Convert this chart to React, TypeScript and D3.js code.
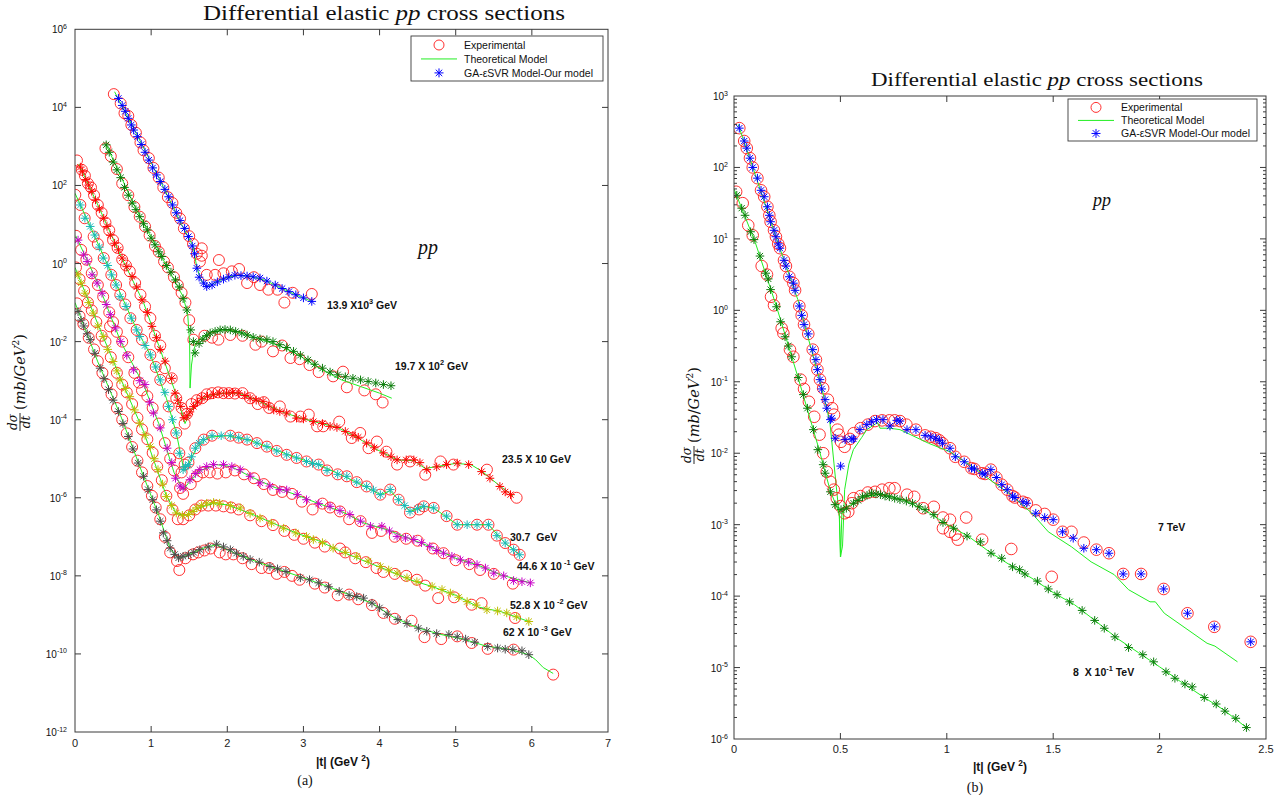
import React from "react";
import * as d3 from "d3";

type P = [number, number]; // [|t| in GeV^2, log10(dσ/dt in mb/GeV^2)]

// ================= Panel (a) data =================
const xTickValsA = [0, 1, 2, 3, 4, 5, 6, 7];
const yDecadesA = [-12, -10, -8, -6, -4, -2, 0, 2, 4, 6];

// 13.9 x 10^3 GeV
const expA1: P[] = [[0.51,4.34],[0.60,4.10],[0.65,3.85],[0.70,3.78],[0.74,3.55],[0.80,3.35],[0.86,3.10],[0.90,2.90],[0.97,2.70],[1.03,2.45],[1.10,2.20],[1.16,1.95],[1.22,1.70],[1.28,1.55],[1.33,1.30],[1.38,1.15],[1.43,0.90],[1.50,0.70],[1.55,0.50],[1.60,0.25],[1.64,0.05],[1.665,0.39],[1.665,0.20],[1.73,-0.29],[1.84,-0.29],[1.89,0.09],[1.95,-0.25],[2.06,-0.20],[2.155,-0.14],[2.26,-0.50],[2.35,-0.35],[2.43,-0.55],[2.54,-0.67],[2.66,-0.67],[2.75,-1.00],[2.86,-0.75],[3.11,-0.78]];
const modA1: P[] = [[0.57,4.23],[0.62,4.05],[0.66,3.90],[0.70,3.72],[0.74,3.55],[0.77,3.42],[0.82,3.25],[0.87,3.05],[0.92,2.85],[0.97,2.65],[1.02,2.45],[1.07,2.27],[1.12,2.10],[1.18,1.90],[1.23,1.71],[1.28,1.50],[1.33,1.30],[1.38,1.10],[1.44,0.90],[1.49,0.69],[1.54,0.45],[1.57,0.25],[1.60,-0.12],[1.63,-0.35],[1.69,-0.50],[1.73,-0.59],[1.80,-0.55],[1.87,-0.47],[1.95,-0.40],[2.02,-0.35],[2.10,-0.30],[2.18,-0.31],[2.26,-0.32],[2.34,-0.34],[2.43,-0.37],[2.52,-0.45],[2.63,-0.55],[2.72,-0.64],[2.81,-0.72],[2.90,-0.80],[3.00,-0.88],[3.11,-0.97]];
const thA1: P[] = [[0.52,4.40],[0.80,3.35],[1.10,2.20],[1.40,1.00],[1.55,0.45],[1.60,-0.10],[1.66,-0.45],[1.73,-0.60],[1.85,-0.48],[2.00,-0.35],[2.15,-0.30],[2.30,-0.33],[2.50,-0.43],[2.70,-0.62],[2.90,-0.80],[3.11,-0.97]];

// 19.7 x 10^2 GeV
const expA2: P[] = [[0.40,2.95],[0.47,2.75],[0.55,2.42],[0.62,2.05],[0.70,1.75],[0.78,1.45],[0.85,1.20],[0.92,0.95],[0.98,0.72],[1.05,0.45],[1.10,0.30],[1.17,0.05],[1.22,-0.10],[1.30,-0.35],[1.35,-0.55],[1.40,-0.75],[1.45,-1.00],[1.50,-1.45],[1.555,-1.95],[1.70,-1.85],[1.80,-1.90],[1.883,-1.95],[2.04,-1.83],[2.20,-1.85],[2.37,-2.08],[2.45,-2.00],[2.60,-2.25],[2.72,-2.10],[2.83,-2.42],[2.95,-2.45],[3.08,-2.60],[3.20,-2.78],[3.39,-2.89],[3.52,-2.77],[3.57,-3.17],[3.80,-3.25],[3.95,-3.35],[4.04,-3.56]];
const modA2: P[] = [[0.41,3.04],[0.45,2.85],[0.50,2.60],[0.55,2.40],[0.60,2.20],[0.65,1.95],[0.70,1.75],[0.75,1.55],[0.80,1.38],[0.85,1.20],[0.90,1.02],[0.95,0.86],[1.00,0.65],[1.05,0.48],[1.10,0.30],[1.14,0.18],[1.20,-0.05],[1.26,-0.22],[1.32,-0.42],[1.37,-0.60],[1.42,-0.90],[1.47,-1.19],[1.52,-1.70],[1.555,-2.00],[1.577,-2.29],[1.63,-2.05],[1.68,-1.94],[1.73,-1.85],[1.775,-1.78],[1.84,-1.74],[1.906,-1.70],[1.97,-1.69],[2.04,-1.70],[2.11,-1.74],[2.19,-1.78],[2.26,-1.83],[2.34,-1.89],[2.43,-1.93],[2.52,-1.95],[2.60,-2.00],[2.69,-2.08],[2.78,-2.15],[2.87,-2.25],[2.96,-2.35],[3.06,-2.47],[3.15,-2.58],[3.25,-2.68],[3.35,-2.78],[3.45,-2.85],[3.55,-2.90],[3.65,-2.94],[3.75,-2.98],[3.85,-3.02],[3.95,-3.06],[4.05,-3.10],[4.15,-3.13]];
const thA2: P[] = [[0.41,3.04],[0.80,1.40],[1.20,-0.05],[1.42,-0.85],[1.48,-1.30],[1.505,-2.00],[1.511,-3.19],[1.53,-2.60],[1.56,-2.20],[1.60,-2.00],[1.68,-1.88],[1.80,-1.75],[1.95,-1.70],[2.10,-1.73],[2.30,-1.85],[2.50,-1.98],[2.70,-2.12],[2.90,-2.30],[3.10,-2.55],[3.30,-2.78],[3.50,-2.98],[3.75,-3.15],[4.00,-3.32],[4.16,-3.45]];

// 23.5 x 10 GeV
const expA3: P[] = [[0.026,2.64],[0.09,2.40],[0.13,2.25],[0.17,2.05],[0.21,1.95],[0.25,1.75],[0.30,1.50],[0.35,1.30],[0.40,1.05],[0.45,0.85],[0.50,0.60],[0.56,0.40],[0.62,0.10],[0.67,-0.05],[0.72,-0.20],[0.79,-0.50],[0.86,-0.80],[0.92,-1.10],[0.99,-1.40],[1.05,-1.85],[1.12,-2.10],[1.18,-2.68],[1.27,-2.94],[1.33,-3.45],[1.40,-3.70],[1.44,-4.10],[1.47,-3.85],[1.53,-3.60],[1.60,-3.50],[1.67,-3.45],[1.73,-3.35],[1.80,-3.32],[1.88,-3.30],[1.95,-3.32],[2.02,-3.32],[2.10,-3.33],[2.20,-3.32],[2.30,-3.45],[2.40,-3.60],[2.48,-3.55],[2.55,-3.70],[2.69,-3.66],[2.83,-3.92],[2.96,-3.92],[3.07,-3.87],[3.18,-4.17],[3.26,-4.17],[3.47,-4.05],[3.635,-4.47],[3.745,-4.34],[3.855,-4.73],[3.965,-4.56],[4.09,-4.82],[4.23,-5.15],[4.40,-5.07],[4.60,-5.41],[4.80,-5.07],[4.97,-5.15],[5.41,-5.28],[5.80,-6.00]];
const modA3: P[] = [[0.07,2.47],[0.10,2.35],[0.14,2.15],[0.18,2.01],[0.22,1.85],[0.27,1.63],[0.32,1.40],[0.377,1.16],[0.42,0.95],[0.464,0.73],[0.52,0.52],[0.57,0.35],[0.618,0.14],[0.68,-0.08],[0.75,-0.33],[0.81,-0.60],[0.88,-0.93],[0.95,-1.25],[1.01,-1.61],[1.07,-1.90],[1.12,-2.20],[1.183,-2.50],[1.27,-2.94],[1.314,-3.32],[1.35,-3.50],[1.389,-3.66],[1.43,-3.95],[1.47,-3.90],[1.51,-3.80],[1.555,-3.66],[1.61,-3.55],[1.665,-3.45],[1.74,-3.40],[1.818,-3.36],[1.90,-3.32],[1.99,-3.32],[2.07,-3.30],[2.15,-3.32],[2.23,-3.38],[2.30,-3.45],[2.38,-3.50],[2.47,-3.53],[2.54,-3.65],[2.61,-3.75],[2.69,-3.79],[2.78,-3.83],[2.91,-3.96],[3.00,-3.98],[3.13,-4.05],[3.25,-4.10],[3.35,-4.17],[3.44,-4.20],[3.55,-4.30],[3.65,-4.40],[3.72,-4.45],[3.83,-4.60],[3.93,-4.72],[4.05,-4.85],[4.15,-4.95],[4.23,-5.03],[4.35,-5.03],[4.45,-5.03],[4.53,-5.10],[4.62,-5.28],[4.75,-5.21],[4.88,-5.15],[5.02,-5.11],[5.17,-5.15],[5.34,-5.33],[5.45,-5.50],[5.58,-5.71],[5.65,-5.85],[5.72,-5.92]];
const thA3: P[] = [[0.05,2.55],[0.30,1.50],[0.60,0.20],[0.90,-1.00],[1.10,-2.10],[1.30,-3.20],[1.40,-3.80],[1.445,-4.10],[1.50,-3.85],[1.60,-3.55],[1.75,-3.38],[1.95,-3.32],[2.15,-3.32],[2.35,-3.47],[2.55,-3.65],[2.75,-3.82],[2.95,-3.95],[3.20,-4.08],[3.45,-4.20],[3.70,-4.45],[3.95,-4.75],[4.23,-5.03],[4.45,-5.05],[4.60,-5.25],[4.75,-5.20],[5.00,-5.12],[5.20,-5.15],[5.35,-5.33],[5.55,-5.65],[5.75,-5.95]];

// 30.7 GeV
const expA4: P[] = [[0.004,1.76],[0.07,1.50],[0.127,1.16],[0.245,0.69],[0.30,0.50],[0.377,0.14],[0.477,-0.29],[0.54,-0.55],[0.595,-0.80],[0.66,-1.05],[0.727,-1.40],[0.81,-1.70],[0.88,-1.95],[0.99,-2.34],[1.06,-2.65],[1.12,-2.98],[1.23,-3.66],[1.33,-4.34],[1.37,-4.86],[1.40,-5.35],[1.44,-5.15],[1.49,-5.10],[1.58,-4.73],[1.69,-4.51],[1.80,-4.41],[2.04,-4.41],[2.15,-4.46],[2.26,-4.51],[2.39,-4.60],[2.52,-4.69],[2.65,-4.80],[2.78,-4.90],[2.91,-4.98],[3.04,-5.07],[3.20,-5.15],[3.31,-5.30],[3.45,-5.40],[3.57,-5.45],[3.70,-5.60],[3.83,-5.71],[4.01,-5.92],[4.14,-5.79],[4.25,-6.05],[4.40,-6.38],[4.52,-6.30],[4.58,-6.22],[4.71,-6.26],[4.88,-6.47],[5.02,-6.69],[5.28,-6.69],[5.43,-6.69],[5.54,-6.97],[5.65,-7.16],[5.76,-7.33],[5.84,-7.46]];
const modA4: P[] = [[0.07,1.50],[0.13,1.16],[0.20,0.95],[0.26,0.73],[0.32,0.42],[0.37,0.14],[0.43,-0.05],[0.48,-0.29],[0.54,-0.55],[0.59,-0.85],[0.67,-1.10],[0.74,-1.40],[0.81,-1.70],[0.85,-1.87],[0.92,-2.10],[0.99,-2.34],[1.06,-2.65],[1.12,-2.98],[1.18,-3.30],[1.23,-3.66],[1.28,-4.00],[1.33,-4.34],[1.37,-4.86],[1.42,-5.28],[1.45,-5.20],[1.49,-5.15],[1.53,-4.95],[1.58,-4.73],[1.63,-4.60],[1.69,-4.51],[1.80,-4.41],[1.92,-4.41],[2.04,-4.41],[2.15,-4.46],[2.26,-4.51],[2.39,-4.60],[2.52,-4.69],[2.65,-4.80],[2.78,-4.90],[2.91,-4.98],[3.04,-5.07],[3.12,-5.12],[3.20,-5.15],[3.31,-5.30],[3.45,-5.40],[3.57,-5.45],[3.70,-5.60],[3.83,-5.71],[3.92,-5.80],[4.01,-5.92],[4.14,-5.79],[4.25,-6.05],[4.33,-6.20],[4.40,-6.35],[4.50,-6.28],[4.58,-6.22],[4.71,-6.26],[4.88,-6.47],[5.02,-6.69],[5.15,-6.69],[5.28,-6.69],[5.43,-6.69],[5.54,-6.97],[5.65,-7.16],[5.76,-7.33],[5.84,-7.46]];
const thA4: P[] = [[0.00,1.80],[0.20,0.95],[0.50,-0.35],[0.80,-1.65],[1.00,-2.38],[1.20,-3.45],[1.33,-4.34],[1.40,-5.00],[1.43,-5.30],[1.50,-5.10],[1.60,-4.70],[1.75,-4.45],[2.00,-4.41],[2.30,-4.53],[2.60,-4.75],[2.90,-4.97],[3.20,-5.15],[3.50,-5.42],[3.80,-5.70],[4.01,-5.92],[4.14,-5.82],[4.25,-6.05],[4.40,-6.35],[4.58,-6.22],[4.71,-6.26],[5.02,-6.69],[5.43,-6.69],[5.65,-7.16],[5.84,-7.46]];

// 44.6 x 10^-1 GeV
const expA5: P[] = [[0.013,0.71],[0.08,0.35],[0.15,0.10],[0.22,-0.25],[0.30,-0.55],[0.37,-0.85],[0.45,-1.25],[0.50,-1.50],[0.46,-1.61],[0.55,-1.75],[0.62,-2.00],[0.70,-2.40],[0.78,-2.80],[0.84,-3.05],[0.88,-3.25],[0.95,-3.40],[1.02,-3.70],[1.10,-4.10],[1.18,-4.60],[1.25,-5.00],[1.30,-5.30],[1.38,-5.75],[1.42,-5.90],[1.52,-5.65],[1.60,-5.45],[1.68,-5.35],[1.77,-5.35],[1.87,-5.38],[1.98,-5.35],[2.10,-5.30],[2.22,-5.40],[2.35,-5.50],[2.48,-5.65],[2.60,-5.80],[2.72,-5.85],[2.85,-5.90],[2.98,-6.10],[3.12,-6.30],[3.25,-6.15],[3.35,-6.25],[3.48,-6.35],[3.60,-6.55],[3.75,-6.60],[3.90,-6.90],[4.02,-6.85],[4.20,-7.00],[4.35,-7.05],[4.50,-7.10],[4.70,-7.30],[4.84,-7.42],[5.00,-7.60],[5.18,-7.70],[5.32,-7.85],[5.50,-7.95],[5.75,-8.20]];
const modA5: P[] = [[0.04,0.60],[0.114,0.22],[0.16,0.05],[0.224,-0.29],[0.29,-0.50],[0.355,-0.76],[0.41,-1.05],[0.464,-1.31],[0.53,-1.65],[0.60,-2.00],[0.68,-2.35],[0.77,-2.72],[0.85,-3.00],[0.92,-3.10],[0.98,-3.55],[1.03,-3.83],[1.12,-4.21],[1.21,-4.73],[1.27,-5.10],[1.32,-5.50],[1.38,-5.70],[1.42,-5.75],[1.51,-5.54],[1.58,-5.38],[1.64,-5.28],[1.73,-5.20],[1.82,-5.15],[1.95,-5.15],[2.06,-5.20],[2.17,-5.28],[2.30,-5.45],[2.43,-5.62],[2.56,-5.70],[2.69,-5.79],[2.78,-5.80],[2.92,-5.92],[3.04,-6.05],[3.20,-6.15],[3.35,-6.22],[3.48,-6.33],[3.61,-6.43],[3.75,-6.60],[3.88,-6.73],[4.03,-6.73],[4.13,-6.85],[4.23,-6.99],[4.34,-7.03],[4.45,-7.07],[4.55,-7.15],[4.66,-7.25],[4.75,-7.35],[4.84,-7.42],[4.95,-7.50],[5.06,-7.59],[5.17,-7.65],[5.28,-7.71],[5.39,-7.80],[5.50,-7.93],[5.63,-8.00],[5.76,-8.12],[5.87,-8.15],[5.98,-8.18]];
const thA5: P[] = [[0.01,0.71],[0.30,-0.50],[0.60,-2.00],[0.90,-3.10],[1.10,-4.10],[1.30,-5.35],[1.42,-5.80],[1.50,-5.60],[1.65,-5.30],[1.85,-5.15],[2.05,-5.20],[2.30,-5.45],[2.60,-5.72],[2.90,-5.92],[3.20,-6.15],[3.50,-6.35],[3.80,-6.65],[4.10,-6.82],[4.40,-7.05],[4.70,-7.28],[5.00,-7.55],[5.30,-7.73],[5.60,-7.98],[5.98,-8.18]];

// 52.8 x 10^-2 GeV
const expA6: P[] = [[0.013,-0.10],[0.06,-0.40],[0.12,-0.70],[0.17,-1.00],[0.22,-1.20],[0.28,-1.50],[0.35,-1.85],[0.40,-2.00],[0.47,-2.40],[0.55,-2.80],[0.62,-3.10],[0.68,-3.30],[0.75,-3.60],[0.82,-3.95],[0.88,-4.25],[0.95,-4.50],[1.02,-4.85],[1.08,-5.20],[1.14,-5.55],[1.20,-5.95],[1.28,-6.30],[1.35,-6.55],[1.42,-6.55],[1.50,-6.45],[1.58,-6.30],[1.66,-6.20],[1.75,-6.20],[1.85,-6.20],[1.95,-6.22],[2.05,-6.25],[2.15,-6.30],[2.30,-6.45],[2.45,-6.60],[2.60,-6.70],[2.75,-6.85],[2.88,-6.95],[3.00,-7.05],[3.15,-7.15],[3.28,-7.25],[3.48,-7.30],[3.55,-7.40],[3.68,-7.55],[3.82,-7.65],[3.96,-7.80],[4.05,-7.90],[4.20,-7.95],[4.35,-8.00],[4.49,-8.10],[4.60,-8.25],[4.77,-8.57],[4.98,-8.55],[5.21,-8.74],[5.34,-8.70],[5.78,-9.08]];
const modA6: P[] = [[0.04,-0.29],[0.08,-0.50],[0.13,-0.76],[0.18,-1.00],[0.24,-1.27],[0.30,-1.60],[0.37,-1.87],[0.43,-2.20],[0.50,-2.51],[0.55,-2.75],[0.59,-2.98],[0.66,-3.20],[0.72,-3.41],[0.78,-3.75],[0.85,-4.09],[0.92,-4.40],[0.99,-4.69],[1.04,-5.00],[1.09,-5.28],[1.15,-5.65],[1.20,-5.97],[1.27,-6.20],[1.33,-6.39],[1.41,-6.45],[1.49,-6.43],[1.55,-6.35],[1.60,-6.26],[1.66,-6.20],[1.73,-6.14],[1.82,-6.12],[1.90,-6.14],[2.04,-6.20],[2.17,-6.26],[2.30,-6.40],[2.43,-6.52],[2.58,-6.65],[2.74,-6.78],[2.90,-6.90],[3.04,-6.99],[3.13,-7.07],[3.25,-7.15],[3.39,-7.29],[3.55,-7.40],[3.70,-7.50],[3.85,-7.62],[4.01,-7.76],[4.12,-7.85],[4.23,-7.93],[4.36,-8.05],[4.49,-8.15],[4.69,-8.27],[4.82,-8.35],[4.93,-8.44],[5.04,-8.55],[5.15,-8.66],[5.27,-8.75],[5.41,-8.87],[5.55,-8.90],[5.67,-8.95],[5.80,-9.05],[5.96,-9.17]];
const thA6: P[] = [[0.00,-0.10],[0.30,-1.55],[0.60,-2.95],[0.90,-4.30],[1.20,-5.95],[1.33,-6.40],[1.45,-6.45],[1.60,-6.28],[1.80,-6.15],[2.00,-6.18],[2.30,-6.40],[2.60,-6.65],[2.90,-6.90],[3.20,-7.10],[3.50,-7.38],[3.80,-7.62],[4.10,-7.85],[4.40,-8.10],[4.70,-8.28],[5.00,-8.50],[5.30,-8.80],[5.60,-8.92],[5.96,-9.17]];

// 62 x 10^-3 GeV
const expA7: P[] = [[0.026,-1.02],[0.06,-1.35],[0.11,-1.55],[0.18,-1.90],[0.25,-2.20],[0.30,-2.50],[0.36,-2.80],[0.42,-3.10],[0.48,-3.35],[0.55,-3.70],[0.62,-4.00],[0.68,-4.35],[0.75,-4.70],[0.82,-5.05],[0.88,-5.35],[0.95,-5.70],[1.01,-5.95],[1.06,-6.25],[1.12,-6.55],[1.18,-7.00],[1.25,-7.40],[1.34,-7.62],[1.37,-7.85],[1.45,-7.55],[1.55,-7.45],[1.62,-7.40],[1.70,-7.35],[1.78,-7.30],[1.90,-7.40],[1.98,-7.45],[2.08,-7.45],[2.20,-7.55],[2.32,-7.70],[2.45,-7.80],[2.55,-7.80],[2.65,-7.95],[2.75,-7.90],[2.85,-8.00],[2.95,-8.10],[3.15,-8.20],[3.28,-8.30],[3.45,-8.50],[3.60,-8.48],[3.72,-8.60],[3.90,-8.75],[4.05,-8.95],[4.20,-9.10],[4.42,-9.15],[4.59,-9.57],[4.81,-9.62],[5.02,-9.55],[5.21,-9.72],[5.42,-9.87],[5.76,-9.89],[6.28,-10.53]];
const modA7: P[] = [[0.04,-1.23],[0.08,-1.45],[0.114,-1.60],[0.16,-1.80],[0.20,-1.95],[0.26,-2.30],[0.33,-2.68],[0.38,-2.95],[0.44,-3.23],[0.50,-3.50],[0.57,-3.79],[0.63,-4.10],[0.70,-4.43],[0.76,-4.75],[0.83,-5.11],[0.90,-5.45],[0.96,-5.79],[1.02,-6.05],[1.07,-6.31],[1.12,-6.60],[1.16,-6.90],[1.21,-7.10],[1.25,-7.29],[1.31,-7.45],[1.36,-7.54],[1.42,-7.50],[1.49,-7.46],[1.56,-7.40],[1.64,-7.33],[1.75,-7.26],[1.86,-7.19],[1.95,-7.26],[2.04,-7.33],[2.12,-7.42],[2.21,-7.50],[2.30,-7.58],[2.42,-7.65],[2.56,-7.76],[2.66,-7.82],[2.77,-7.89],[2.96,-8.05],[3.08,-8.10],[3.20,-8.18],[3.33,-8.28],[3.47,-8.40],[3.60,-8.50],[3.70,-8.53],[3.79,-8.57],[3.90,-8.70],[4.00,-8.82],[4.10,-8.98],[4.24,-9.12],[4.36,-9.22],[4.51,-9.34],[4.62,-9.42],[4.75,-9.48],[4.91,-9.50],[5.02,-9.56],[5.13,-9.62],[5.25,-9.70],[5.42,-9.81],[5.55,-9.85],[5.65,-9.88],[5.75,-9.89],[5.87,-9.92],[5.96,-10.02]];
const thA7: P[] = [[0.00,-1.00],[0.30,-2.52],[0.60,-3.90],[0.90,-5.45],[1.10,-6.45],[1.25,-7.30],[1.36,-7.56],[1.50,-7.45],[1.70,-7.28],[1.86,-7.20],[2.10,-7.42],[2.40,-7.65],[2.70,-7.85],[3.00,-8.05],[3.30,-8.26],[3.60,-8.48],[3.90,-8.70],[4.20,-9.08],[4.50,-9.33],[4.80,-9.50],[5.10,-9.62],[5.40,-9.80],[5.70,-9.88],[5.96,-10.02],[6.05,-10.15],[6.15,-10.35],[6.28,-10.50]];

const starColorsA = ["#0000ff", "#0b7d0b", "#ff0000", "#19b8b8", "#c800c8", "#bdbd00", "#4a4a4a"];
const labelTextsA = [
  ["13.9 X10", "3", " GeV"],
  ["19.7 X 10", "2", " GeV"],
  ["23.5 X 10 GeV", "", ""],
  ["30.7\u00a0\u00a0GeV", "", ""],
  ["44.6 X 10", " -1", " GeV"],
  ["52.8 X 10", " -2", " GeV"],
  ["62 X 10", " -3", " GeV"],
];
const labelPosA = [[327, 309], [395, 370], [502, 463], [510, 541], [517, 570], [510, 609], [503, 636]];

// ================= Panel (b) data =================
const xTickValsB = [0, 0.5, 1, 1.5, 2, 2.5];
const yDecadesB = [-6, -5, -4, -3, -2, -1, 0, 1, 2, 3];

// 7 TeV
const expB1: P[] = [[0.025,2.55],[0.048,2.37],[0.06,2.27],[0.075,2.13],[0.088,2.0],[0.11,1.85],[0.127,1.68],[0.142,1.59],[0.157,1.45],[0.166,1.33],[0.172,1.24],[0.188,1.12],[0.197,1.03],[0.208,0.93],[0.216,0.87],[0.235,0.70],[0.244,0.62],[0.26,0.47],[0.279,0.38],[0.287,0.28],[0.307,0.06],[0.318,-0.07],[0.329,-0.20],[0.349,-0.33],[0.37,-0.55],[0.385,-0.69],[0.392,-0.83],[0.404,-0.97],[0.419,-1.09],[0.441,-1.25],[0.461,-1.37],[0.47,-1.46],[0.486,-1.67],[0.493,-1.74],[0.503,-1.84],[0.52,-1.91],[0.545,-1.80],[0.562,-1.72],[0.595,-1.65],[0.629,-1.60],[0.663,-1.55],[0.696,-1.54],[0.73,-1.54],[0.755,-1.54],[0.78,-1.55],[0.81,-1.60],[0.855,-1.67],[0.898,-1.75],[0.925,-1.77],[0.948,-1.79],[0.965,-1.82],[0.98,-1.86],[1.015,-1.93],[1.04,-2.05],[1.082,-2.12],[1.116,-2.21],[1.13,-2.22],[1.166,-2.28],[1.18,-2.29],[1.207,-2.23],[1.233,-2.34],[1.258,-2.44],[1.284,-2.51],[1.309,-2.60],[1.32,-2.62],[1.358,-2.68],[1.376,-2.70],[1.418,-2.80],[1.46,-2.85],[1.50,-2.93],[1.544,-3.10],[1.586,-3.10],[1.644,-3.25],[1.703,-3.35],[1.762,-3.40],[1.829,-3.69],[1.913,-3.69],[2.019,-3.90],[2.131,-4.24],[2.257,-4.43],[2.428,-4.64]];
const modB1: P[] = [[0.025,2.55],[0.048,2.37],[0.06,2.27],[0.075,2.13],[0.088,2.0],[0.11,1.85],[0.127,1.68],[0.142,1.59],[0.157,1.45],[0.166,1.33],[0.172,1.24],[0.188,1.12],[0.197,1.03],[0.208,0.93],[0.216,0.87],[0.235,0.70],[0.244,0.62],[0.26,0.47],[0.279,0.38],[0.287,0.28],[0.307,0.06],[0.318,-0.07],[0.329,-0.20],[0.349,-0.33],[0.37,-0.55],[0.385,-0.69],[0.392,-0.83],[0.404,-0.97],[0.412,-1.10],[0.428,-1.25],[0.436,-1.37],[0.453,-1.53],[0.459,-1.51],[0.475,-1.79],[0.501,-2.18],[0.522,-1.81],[0.554,-1.80],[0.561,-1.80],[0.592,-1.67],[0.624,-1.60],[0.647,-1.56],[0.67,-1.53],[0.70,-1.53],[0.733,-1.62],[0.765,-1.54],[0.78,-1.55],[0.813,-1.67],[0.855,-1.67],[0.898,-1.75],[0.925,-1.77],[0.948,-1.79],[0.965,-1.82],[0.98,-1.86],[1.015,-1.93],[1.04,-2.05],[1.082,-2.12],[1.116,-2.21],[1.13,-2.22],[1.166,-2.28],[1.18,-2.29],[1.207,-2.23],[1.233,-2.34],[1.258,-2.44],[1.284,-2.51],[1.309,-2.60],[1.32,-2.62],[1.358,-2.68],[1.376,-2.70],[1.418,-2.84],[1.46,-2.90],[1.50,-2.93],[1.544,-3.10],[1.594,-3.19],[1.644,-3.33],[1.703,-3.35],[1.762,-3.40],[1.829,-3.69],[1.913,-3.69],[2.019,-3.90],[2.131,-4.24],[2.257,-4.43],[2.428,-4.64]];
const thB1: P[] = [[0.02,2.60],[0.10,1.90],[0.20,1.00],[0.30,0.15],[0.40,-0.95],[0.436,-1.37],[0.451,-1.58],[0.47,-2.15],[0.495,-2.89],[0.50,-3.45],[0.51,-3.30],[0.52,-2.51],[0.54,-2.15],[0.561,-1.95],[0.60,-1.78],[0.624,-1.67],[0.675,-1.57],[0.686,-1.65],[0.733,-1.65],[0.78,-1.67],[0.914,-1.86],[1.015,-1.98],[1.141,-2.23],[1.183,-2.33],[1.30,-2.58],[1.40,-2.84],[1.477,-3.10],[1.586,-3.31],[1.678,-3.52],[1.787,-3.70],[1.854,-3.91],[1.955,-4.08],[1.98,-4.08],[2.022,-4.24],[2.223,-4.66],[2.26,-4.70],[2.366,-4.92]];

// 8 x 10^-1 TeV
const expB2: P[] = [[0.01,1.66],[0.041,1.50],[0.067,1.19],[0.088,1.05],[0.13,0.62],[0.155,0.50],[0.174,0.19],[0.188,0.07],[0.224,-0.25],[0.232,-0.32],[0.263,-0.55],[0.279,-0.65],[0.313,-0.97],[0.329,-1.10],[0.352,-1.28],[0.377,-1.49],[0.402,-1.74],[0.419,-2.00],[0.436,-2.26],[0.453,-2.40],[0.469,-2.51],[0.483,-2.63],[0.50,-2.74],[0.52,-2.84],[0.537,-2.82],[0.554,-2.70],[0.562,-2.63],[0.595,-2.60],[0.629,-2.55],[0.663,-2.54],[0.696,-2.51],[0.73,-2.49],[0.755,-2.49],[0.813,-2.58],[0.847,-2.61],[0.889,-2.77],[0.939,-2.75],[0.982,-2.90],[0.982,-3.05],[1.015,-2.93],[1.015,-3.10],[1.04,-3.14],[1.052,-3.21],[1.091,-2.90],[1.166,-3.21],[1.303,-3.34],[1.493,-3.73]];
const modB2: P[] = [[0.013,1.61],[0.036,1.43],[0.052,1.33],[0.078,1.10],[0.094,0.99],[0.122,0.76],[0.149,0.52],[0.161,0.44],[0.172,0.29],[0.20,0.05],[0.219,-0.16],[0.24,-0.37],[0.255,-0.50],[0.271,-0.65],[0.302,-0.94],[0.326,-1.18],[0.345,-1.37],[0.373,-1.67],[0.394,-1.95],[0.419,-2.16],[0.428,-2.28],[0.453,-2.54],[0.475,-2.72],[0.503,-2.79],[0.528,-2.77],[0.562,-2.70],[0.583,-2.66],[0.604,-2.61],[0.625,-2.59],[0.646,-2.56],[0.667,-2.57],[0.688,-2.58],[0.71,-2.60],[0.73,-2.61],[0.755,-2.63],[0.78,-2.65],[0.81,-2.67],[0.839,-2.70],[0.87,-2.75],[0.898,-2.79],[0.939,-2.86],[0.982,-2.97],[1.032,-3.05],[1.095,-3.16],[1.158,-3.24],[1.208,-3.40],[1.258,-3.47],[1.309,-3.59],[1.342,-3.63],[1.367,-3.69],[1.426,-3.79],[1.477,-3.90],[1.518,-3.98],[1.577,-4.08],[1.636,-4.20],[1.695,-4.34],[1.74,-4.45],[1.79,-4.57],[1.854,-4.72],[1.921,-4.82],[1.972,-4.92],[2.03,-5.06],[2.072,-5.15],[2.119,-5.23],[2.153,-5.27],[2.21,-5.42],[2.266,-5.51],[2.307,-5.61],[2.358,-5.71],[2.408,-5.84]];
const thB2: P[] = [[0.00,1.70],[0.10,0.95],[0.20,0.05],[0.30,-0.93],[0.40,-1.95],[0.45,-2.50],[0.478,-2.72],[0.495,-2.84],[0.501,-3.45],[0.507,-2.84],[0.53,-2.76],[0.60,-2.62],[0.69,-2.57],[0.80,-2.66],[0.90,-2.80],[1.00,-3.00],[1.10,-3.16],[1.20,-3.38],[1.30,-3.57],[1.40,-3.75],[1.50,-3.95],[1.60,-4.12],[1.70,-4.35],[1.80,-4.59],[1.90,-4.79],[2.00,-4.99],[2.10,-5.20],[2.20,-5.40],[2.30,-5.59],[2.408,-5.84]];

const starColorsB = ["#0000ff", "#0b7d0b"];

const legendLabels = ["Experimental", "Theoretical Model", "GA-\u03b5SVR Model-Our model"];

const EXP_COLOR = "#ff1a1a";
const TH_COLOR = "#22ee22";
const AXIS_COLOR = "#3a3a3a";

function starPath(x: number, y: number, r: number) {
  const d = r * 0.72;
  return `M${x - r},${y}L${x + r},${y}M${x},${y - r}L${x},${y + r}M${x - d},${y - d}L${x + d},${y + d}M${x - d},${y + d}L${x + d},${y - d}`;
}

type Scale = (v: number) => number;

function Series({ x, y, exp, mod, th, color, rc, rs }: { x: Scale; y: Scale; exp: P[]; mod: P[]; th: P[]; color: string; rc: number; rs: number }) {
  const line = d3.line<P>().x((d) => x(d[0])).y((d) => y(10 ** d[1]));
  return (
    <g>
      {exp.map((d, i) => (
        <circle key={"c" + i} cx={x(d[0])} cy={y(10 ** d[1])} r={rc} fill="none" stroke={EXP_COLOR} strokeWidth={0.9} />
      ))}
      <path d={line(th) || ""} fill="none" stroke={TH_COLOR} strokeWidth={1} />
      <path d={mod.map((d) => starPath(x(d[0]), y(10 ** d[1]), rs)).join("")} fill="none" stroke={color} strokeWidth={1} />
    </g>
  );
}

function Sup({ x, y, base, sup, rest, size, anchor, weight }: any) {
  return (
    <text x={x} y={y} fontSize={size} textAnchor={anchor || "start"} fontWeight={weight || "normal"} fill="#111">
      {base}
      {sup ? (
        <tspan dy={-size * 0.45} fontSize={size * 0.7}>{sup}</tspan>
      ) : null}
      {rest ? <tspan dy={sup ? size * 0.45 : 0}>{rest}</tspan> : null}
    </text>
  );
}

function YLabel({ cx, cy }: { cx: number; cy: number }) {
  return (
    <g transform={`translate(${cx},${cy}) rotate(-90)`} fontFamily="'DejaVu Serif', 'Liberation Serif', serif" fill="#111">
      <text x={-50} y={-3} fontSize={12} fontStyle="italic" textAnchor="middle">d{"\u03c3"}</text>
      <line x1={-59} x2={-41} y1={0} y2={0} stroke="#111" strokeWidth={0.9} />
      <text x={-50} y={10} fontSize={12} fontStyle="italic" textAnchor="middle">dt</text>
      <text x={-38} y={5} fontSize={14.5}>
        (<tspan fontStyle="italic">mb</tspan>/<tspan fontStyle="italic">GeV</tspan>
        <tspan dy={-6} fontSize={9.5}>2</tspan>
        <tspan dy={6}>)</tspan>
      </text>
    </g>
  );
}

function Legend({ x, y, w, h }: { x: number; y: number; w: number; h: number }) {
  const mx = x + 28;
  return (
    <g>
      <rect x={x} y={y} width={w} height={h} fill="#fff" stroke={AXIS_COLOR} strokeWidth={0.9} />
      {legendLabels.map((t, i) => {
        const cy = y + h * 0.2 + i * h * 0.31;
        return (
          <g key={i}>
            {i === 0 && <circle cx={mx} cy={cy} r={5} fill="none" stroke={EXP_COLOR} strokeWidth={0.9} />}
            {i === 1 && <line x1={mx - 18} x2={mx + 18} y1={cy} y2={cy} stroke={TH_COLOR} strokeWidth={1} />}
            {i === 2 && <path d={starPath(mx, cy, 4.5)} stroke="#0000ff" strokeWidth={1} fill="none" />}
            <text x={mx + 25} y={cy + 4} fontSize={10.5} fill="#111">{t}</text>
          </g>
        );
      })}
    </g>
  );
}

export default function App() {
  // ---------- scales ----------
  const xA = d3.scaleLinear().domain([0, 7]).range([75, 608]);
  const yA = d3.scaleLog().domain([1e-12, 1e6]).range([732, 29.3]);
  const xB = d3.scaleLinear().domain([0, 2.5]).range([734, 1266]);
  const yB = d3.scaleLog().domain([1e-6, 1e3]).range([739, 96]);

  const seriesA = [
    [expA1, modA1, thA1], [expA2, modA2, thA2], [expA3, modA3, thA3], [expA4, modA4, thA4],
    [expA5, modA5, thA5], [expA6, modA6, thA6], [expA7, modA7, thA7],
  ];
  const seriesB = [[expB1, modB1, thB1], [expB2, modB2, thB2]];

  const [ax0, ax1] = xA.range();
  const [ay0, ay1] = yA.range(); // bottom, top
  const [bx0, bx1] = xB.range();
  const [by0, by1] = yB.range();

  const minorB = yB.ticks().filter((v) => Math.abs(Math.log10(v) - Math.round(Math.log10(v))) > 1e-6);

  return (
    <svg width={1283} height={795} style={{ position: "absolute", left: 0, top: 0, background: "#fff" }} fontFamily="'Liberation Sans', Arial, sans-serif">
      <rect x={0} y={0} width={1283} height={795} fill="#fff" />
      <defs>
        <clipPath id="clipA"><rect x={ax0} y={ay1} width={ax1 - ax0} height={ay0 - ay1} /></clipPath>
        <clipPath id="clipB"><rect x={bx0} y={by1} width={bx1 - bx0} height={by0 - by1} /></clipPath>
      </defs>

      {/* ================= Panel (a) ================= */}
      <text x={203} y={20} fontSize={21} fontFamily="'Liberation Serif', 'DejaVu Serif', serif" fill="#111" textLength={362} lengthAdjust="spacingAndGlyphs">
        Differential elastic <tspan fontStyle="italic">pp</tspan> cross sections
      </text>
      <g clipPath="url(#clipA)">
        {seriesA.map((s, i) => (
          <Series key={i} x={xA} y={yA} exp={s[0]} mod={s[1]} th={s[2]} color={starColorsA[i]} rc={5.5} rs={4.3} />
        ))}
      </g>
      <rect x={ax0} y={ay1} width={ax1 - ax0} height={ay0 - ay1} fill="none" stroke={AXIS_COLOR} strokeWidth={1} />
      {xTickValsA.map((v) => (
        <g key={"xa" + v}>
          {v > 0 && v < 7 && (
            <>
              <line x1={xA(v)} x2={xA(v)} y1={ay0} y2={ay0 - 6} stroke={AXIS_COLOR} />
              <line x1={xA(v)} x2={xA(v)} y1={ay1} y2={ay1 + 6} stroke={AXIS_COLOR} />
            </>
          )}
          <text x={xA(v)} y={ay0 + 15} fontSize={11} textAnchor="middle" fill="#222">{v}</text>
        </g>
      ))}
      {yDecadesA.map((e) => (
        <g key={"ya" + e}>
          {e > -12 && e < 6 && (
            <>
              <line x1={ax0} x2={ax0 + 6} y1={yA(10 ** e)} y2={yA(10 ** e)} stroke={AXIS_COLOR} />
              <line x1={ax1} x2={ax1 - 6} y1={yA(10 ** e)} y2={yA(10 ** e)} stroke={AXIS_COLOR} />
            </>
          )}
          <Sup x={ax0 - 8} y={yA(10 ** e) + 4} base="10" sup={String(e)} rest="" size={10} anchor="end" />
        </g>
      ))}
      <Legend x={411} y={36} w={192} h={45} />
      <text x={418} y={254} fontSize={20} fontStyle="italic" fontFamily="'Liberation Serif', serif" fill="#111">pp</text>
      {labelTextsA.map((l, i) => (
        <Sup key={"la" + i} x={labelPosA[i][0]} y={labelPosA[i][1]} base={l[0]} sup={l[1]} rest={l[2]} size={10.5} weight="bold" />
      ))}
      <Sup x={343} y={766} base="|t| (GeV " sup="2" rest=")" size={12} anchor="middle" weight="bold" />
      <text x={305} y={785} fontSize={14} fontFamily="'Liberation Serif', serif" textAnchor="middle" fill="#111">(a)</text>
      <YLabel cx={20} cy={372} />

      {/* ================= Panel (b) ================= */}
      <text x={871} y={86} fontSize={19} fontFamily="'Liberation Serif', 'DejaVu Serif', serif" fill="#111" textLength={332} lengthAdjust="spacingAndGlyphs">
        Differential elastic <tspan fontStyle="italic">pp</tspan> cross sections
      </text>
      <g clipPath="url(#clipB)">
        {seriesB.map((s, i) => (
          <Series key={i} x={xB} y={yB} exp={s[0]} mod={s[1]} th={s[2]} color={starColorsB[i]} rc={5.8} rs={4.3} />
        ))}
      </g>
      <rect x={bx0} y={by1} width={bx1 - bx0} height={by0 - by1} fill="none" stroke={AXIS_COLOR} strokeWidth={1} />
      {xTickValsB.map((v) => (
        <g key={"xb" + v}>
          {v > 0 && v < 2.5 && (
            <>
              <line x1={xB(v)} x2={xB(v)} y1={by0} y2={by0 - 6} stroke={AXIS_COLOR} />
              <line x1={xB(v)} x2={xB(v)} y1={by1} y2={by1 + 6} stroke={AXIS_COLOR} />
            </>
          )}
          <text x={xB(v)} y={by0 + 14} fontSize={11} textAnchor="middle" fill="#222">{v}</text>
        </g>
      ))}
      {yDecadesB.map((e) => (
        <g key={"yb" + e}>
          {e > -6 && e < 3 && (
            <>
              <line x1={bx0} x2={bx0 + 6} y1={yB(10 ** e)} y2={yB(10 ** e)} stroke={AXIS_COLOR} />
              <line x1={bx1} x2={bx1 - 6} y1={yB(10 ** e)} y2={yB(10 ** e)} stroke={AXIS_COLOR} />
            </>
          )}
          <Sup x={bx0 - 6} y={yB(10 ** e) + 4} base="10" sup={String(e)} rest="" size={10} anchor="end" />
        </g>
      ))}
      {minorB.map((v, i) => (
        <g key={"mb" + i}>
          <line x1={bx0} x2={bx0 + 3} y1={yB(v)} y2={yB(v)} stroke={AXIS_COLOR} />
          <line x1={bx1} x2={bx1 - 3} y1={yB(v)} y2={yB(v)} stroke={AXIS_COLOR} />
        </g>
      ))}
      <Legend x={1068} y={99} w={189} h={42} />
      <text x={1093} y={206} fontSize={18} fontStyle="italic" fontFamily="'Liberation Serif', serif" fill="#111">pp</text>
      <text x={1158} y={531} fontSize={10.5} fontWeight="bold" fill="#111">7 TeV</text>
      <Sup x={1073} y={676} base={"8\u00a0\u00a0X 10"} sup="-1" rest=" TeV" size={10.5} weight="bold" />
      <Sup x={1000} y={771} base="|t| (GeV " sup="2" rest=")" size={12} anchor="middle" weight="bold" />
      <text x={975} y={792} fontSize={14} fontFamily="'Liberation Serif', serif" textAnchor="middle" fill="#111">(b)</text>
      <YLabel cx={694} cy={405} />
    </svg>
  );
}
